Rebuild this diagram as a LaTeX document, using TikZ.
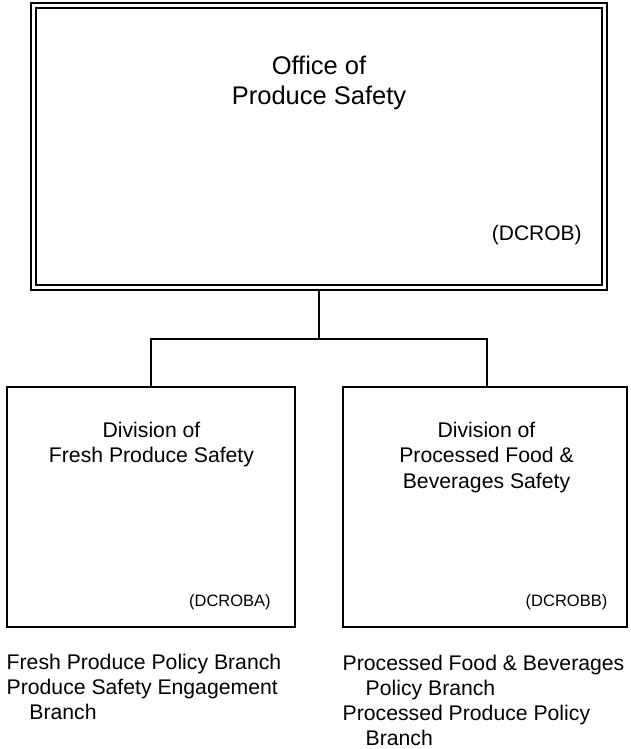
\documentclass[tikz,border=0pt]{standalone}
\usepackage{fontspec}
\setmainfont{Liberation Sans}
\usetikzlibrary{backgrounds}
\begin{document}
\begin{tikzpicture}[x=1pt,y=-1pt,
  every node/.style={inner sep=0pt,outer sep=0pt},
  officebox/.style={draw,line width=2pt,double,double distance=2.7pt,
    minimum width=570.75pt,minimum height=282.4pt},
  divbox/.style={draw,line width=2pt,minimum height=239.8pt},
  bigtxt/.style={font=\fontsize{25.5}{30}\selectfont,align=center},
  midtxt/.style={font=\fontsize{21.2}{25.4}\selectfont,align=center},
  codetxt/.style={font=\fontsize{16.5}{20}\selectfont},
  listtxt/.style={font=\fontsize{21.2}{25.2}\selectfont,align=left},
  conn/.style={line width=2pt}]
\useasboundingbox (0,0) rectangle (630,749);

% boxes
\node[officebox] (office) at (318.9,146.55) {};
\node[divbox,minimum width=288pt] (fresh) at (151.3,506.6) {};
\node[divbox,minimum width=283.9pt] (proc) at (485.25,506.6) {};

% texts in boxes (base = baseline of the last line)
\node[bigtxt,anchor=base] (officet) at (319,105) {Office of\\Produce Safety};
\node[midtxt,anchor=base] (freshname) at (151.5,462.7) {Division of\\Fresh Produce Safety};
\node[midtxt,anchor=base] (procname) at (486.5,488.1) {Division of\\Processed Food \&\\Beverages Safety};
\node[font=\fontsize{21}{25}\selectfont,anchor=base east] (officecode) at (581.7,240) {(DCROB)};
\node[codetxt,anchor=base east] (freshcode) at (270.7,606) {(DCROBA)};
\node[codetxt,anchor=base east] (proccode) at (607.3,606) {(DCROBB)};

% branch lists
\node[listtxt,anchor=base west] (freshlist) at (6.7,719.7)
  {Fresh Produce Policy Branch\\Produce Safety Engagement\\\hspace*{22.7pt}Branch};
\node[listtxt,anchor=base west] (proclist) at (342.7,745.6)
  {Processed Food \& Beverages\\\hspace*{23pt}Policy Branch\\Processed Produce Policy\\\hspace*{23pt}Branch};

% connectors
\coordinate (bus) at (0,338.7);
\begin{scope}[on background layer]
\draw[conn] (office.south) -- (office.south |- bus);
\draw[conn] (fresh.north) -- (fresh.north |- bus)
  -- ([xshift=2pt]proc.north |- bus) -- ([xshift=2pt]proc.north);
\end{scope}
\end{tikzpicture}
\end{document}
